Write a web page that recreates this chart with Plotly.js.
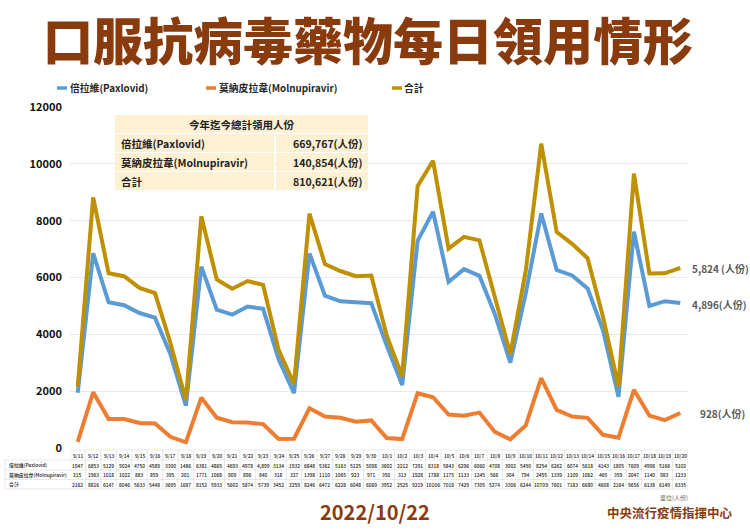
<!DOCTYPE html>
<html><head><meta charset="utf-8">
<script src="https://cdn.plot.ly/plotly-3.0.1.min.js"></script>
<style>html,body{margin:0;padding:0;background:#fff}#chart{width:750px;height:531px}</style>
</head><body><div id="chart"></div>
<script>
const dates = ["9/11","9/12","9/13","9/14","9/15","9/16","9/17","9/18","9/19","9/20","9/21","9/22","9/23","9/24","9/25","9/26","9/27","9/28","9/29","9/30","10/1","10/2","10/3","10/4","10/5","10/6","10/7","10/8","10/9","10/10","10/11","10/12","10/13","10/14","10/15","10/16","10/17","10/18","10/19","10/20"];
const paxlovid = [1947,6853,5129,5024,4750,4589,3300,1486,6381,4865,4693,4978,4899,3134,1932,6848,5362,5163,5125,5098,3602,2212,7291,8318,5843,6296,6060,4708,3002,5450,8254,6262,6074,5618,4143,1805,7609,4998,5166,5102];
const molnupiravir = [215,1963,1018,1022,883,859,395,201,1771,1068,909,896,840,318,327,1398,1110,1065,923,971,350,313,1928,1788,1175,1133,1245,566,304,794,2455,1339,1109,1062,465,359,2047,1140,983,1233];
const total = [2162,8816,6147,6046,5633,5448,3695,1687,8152,5933,5602,5874,5739,3452,2259,8246,6472,6228,6048,6069,3952,2525,9219,10106,7018,7429,7305,5274,3306,6244,10709,7601,7183,6680,4608,2164,9656,6138,6149,6335];
const paxDisplay = paxlovid.map((v,i)=> i===12 ? "4,899" : String(v));
const seriesNames = ["倍拉維(Paxlovid)","莫納皮拉韋(Molnupiravir)","合計"];
const seriesColors = ["#5b9bd5","#ed7d31","#bf9000"];
const summaryLabels = ["倍拉維(Paxlovid)","莫納皮拉韋(Molnupiravir)","合計"];
const summaryValues = ["669,767(人份)","140,854(人份)","810,621(人份)"];
const endLabels = ["4,896(人份)","928(人份)","5,824 (人份)"];

const W=750,H=531,L=70,R=62,T=107,B=83;
const pw=W-L-R, ph=H-T-B;
const px=x=>(x-L)/pw, py=y=>(H-B-y)/ph;
const FONT='"Noto Sans CJK TC", "Noto Sans", sans-serif';

const traces=[paxlovid,molnupiravir,total].map((d,i)=>({
  x:dates.map((_,k)=>k), y:d, type:'scatter', mode:'lines', name:seriesNames[i],
  line:{color:seriesColors[i],width:4}, hoverinfo:'skip'
}));
const shapes=[], ann=[];
// bottom data table
const rowsY=[450,460,470,479.5,489];
const tblLeft=5;
rowsY.forEach((y,j)=>{
  shapes.push({type:'line',xref:'paper',yref:'paper',x0:px(j===0?L:tblLeft),x1:px(688),y0:py(y),y1:py(y),line:{color:'#d9d9d9',width:0.6}});
});
for(let k=0;k<=dates.length;k++){
  shapes.push({type:'line',xref:'x',yref:'paper',x0:k-0.5,x1:k-0.5,y0:py(450),y1:py(489),line:{color:'#d9d9d9',width:0.6}});
}
shapes.push({type:'line',xref:'paper',yref:'paper',x0:px(tblLeft),x1:px(tblLeft),y0:py(460),y1:py(489),line:{color:'#d9d9d9',width:0.6}});
const rowData=[dates,paxDisplay,molnupiravir.map(String),total.map(String)];
const rowLabels=["",seriesNames[0],seriesNames[1],seriesNames[2]];
for(let j=0;j<4;j++){
  const yc=(rowsY[j]+rowsY[j+1])/2;
  rowData[j].forEach((t,k)=>{
    ann.push({xref:'x',yref:'paper',x:k,y:py(yc),text:t,showarrow:false,font:{family:FONT,size:4.9,color:'#222',weight:500},xanchor:'center',yanchor:'middle'});
  });
  if(rowLabels[j]) ann.push({xref:'paper',yref:'paper',x:px(7),y:py(yc),text:rowLabels[j],showarrow:false,font:{family:FONT,size:4.9,color:'#222',weight:500},xanchor:'left',yanchor:'middle'});
}
// summary inset table
const sx0=115,sx1=368,sxm=275;
const sRows=[115,134,153,172,191];
shapes.push({type:'rect',xref:'paper',yref:'paper',x0:px(sx0),x1:px(sx1),y0:py(sRows[0]),y1:py(sRows[1]-1),fillcolor:'#fdf0d3',line:{width:0}});
for(let j=1;j<4;j++){
  shapes.push({type:'rect',xref:'paper',yref:'paper',x0:px(sx0),x1:px(sxm-1),y0:py(sRows[j]),y1:py(sRows[j+1]-1),fillcolor:'#fdf0d3',line:{width:0}});
  shapes.push({type:'rect',xref:'paper',yref:'paper',x0:px(sxm+1),x1:px(sx1),y0:py(sRows[j]),y1:py(sRows[j+1]-1),fillcolor:'#fdf0d3',line:{width:0}});
}
ann.push({xref:'paper',yref:'paper',x:px((sx0+sx1)/2),y:py(124.5),text:'今年迄今總計領用人份',showarrow:false,font:{family:FONT,size:10.5,color:'#222',weight:700},xanchor:'center',yanchor:'middle'});
for(let j=0;j<3;j++){
  const yc=(sRows[j+1]+sRows[j+2])/2-0.5;
  ann.push({xref:'paper',yref:'paper',x:px(sx0+4),y:py(yc),text:summaryLabels[j],showarrow:false,font:{family:FONT,size:10.5,color:'#222',weight:700},xanchor:'left',yanchor:'middle'});
  ann.push({xref:'paper',yref:'paper',x:px(sx1-3),y:py(yc),text:summaryValues[j],showarrow:false,font:{family:FONT,size:10.5,color:'#222',weight:700},xanchor:'right',yanchor:'middle'});
}
// end labels
[[690,304],[698,413],[690,268]].forEach((p,i)=>{
  ann.push({xref:'paper',yref:'paper',x:px(p[0]),y:py(p[1]),text:endLabels[i],showarrow:false,font:{family:FONT,size:10,color:'#595959',weight:700},xanchor:'left',yanchor:'middle'});
});
// legend (manual)
[[57,68],[206,217],[392,402]].forEach((p,i)=>{
  shapes.push({type:'line',xref:'paper',yref:'paper',x0:px(p[0]),x1:px(p[0]+10),y0:py(88),y1:py(88),line:{color:seriesColors[i],width:3.5}});
  ann.push({xref:'paper',yref:'paper',x:px(p[1]),y:py(88),text:seriesNames[i],showarrow:false,font:{family:FONT,size:9.8,color:'#262626',weight:700},xanchor:'left',yanchor:'middle'});
});
// title & footer
ann.push({xref:'paper',yref:'paper',x:px(368),y:py(38),text:'口服抗病毒藥物每日領用情形',showarrow:false,font:{family:FONT,size:50,color:'#8a3b0e',weight:900},xanchor:'center',yanchor:'middle'});
ann.push({xref:'paper',yref:'paper',x:px(690),y:py(497),text:'單位(人份)',showarrow:false,font:{family:FONT,size:6,color:'#666'},xanchor:'right',yanchor:'middle'});
ann.push({xref:'paper',yref:'paper',x:px(375),y:py(511),text:'2022/10/22',showarrow:false,font:{family:FONT,size:20,color:'#8a3b0e',weight:700},xanchor:'center',yanchor:'middle'});
ann.push({xref:'paper',yref:'paper',x:px(735),y:py(512),text:'中央流行疫情指揮中心',showarrow:false,font:{family:FONT,size:12.5,color:'#8a3b0e',weight:700},xanchor:'right',yanchor:'middle'});

const layout={
  width:W,height:H,margin:{l:L,r:R,t:T,b:B,pad:0},
  paper_bgcolor:'#fff',plot_bgcolor:'#fff',showlegend:false,
  xaxis:{range:[-0.5,dates.length-0.5],showticklabels:false,showgrid:false,zeroline:false,showline:false,ticks:''},
  yaxis:{range:[0,12000],tickvals:[0,2000,4000,6000,8000,10000,12000],ticktext:['0','2000','4000','6000','8000','10000','12000'],
    showgrid:true,gridcolor:'#e8e8e8',gridwidth:1,zeroline:false,showline:false,ticks:'',ticklabelstandoff:7,
    tickfont:{family:FONT,size:11,color:'#111',weight:700}},
  shapes:shapes,annotations:ann,font:{family:FONT}
};
Plotly.newPlot('chart',traces,layout,{displayModeBar:false,staticPlot:true});
</script></body></html>
